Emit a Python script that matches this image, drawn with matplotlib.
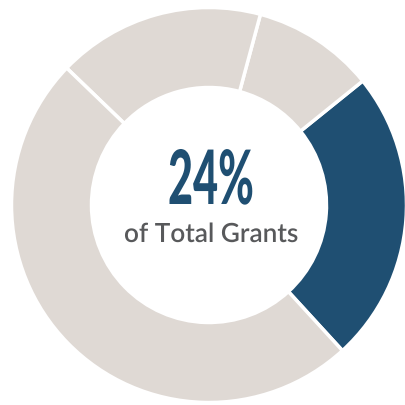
import matplotlib
matplotlib.use("Agg")
import matplotlib.pyplot as plt
from matplotlib.patheffects import AbstractPathEffect
from matplotlib.transforms import Affine2D

# share of total grants, counter-clockwise from the highlighted slice
labels = ["This program", "Other A", "Other B", "Other C"]
shares = [24, 10, 17, 49]
colors = ["#1f4f72", "#dfd9d4", "#dfd9d4", "#dfd9d4"]

BIG = "24%"
SUB = "of Total Grants"


class Squeeze(AbstractPathEffect):
    """narrow the glyphs horizontally about a fixed x (fakes a condensed face)"""
    def __init__(self, sx, cx):
        super().__init__()
        self.sx, self.cx = sx, cx

    def draw_path(self, renderer, gc, tpath, affine, rgbFace=None):
        aff = affine + Affine2D().translate(-self.cx, 0).scale(self.sx, 1).translate(self.cx, 0)
        renderer.draw_path(gc, tpath, aff, rgbFace)


def condense(txt, width_px):
    r = fig.canvas.get_renderer()
    bb = txt.get_window_extent(r)
    txt.set_path_effects([Squeeze(width_px / bb.width, 0.5 * (bb.x0 + bb.x1))])


fig = plt.figure(figsize=(4.05, 4.05), dpi=100)
ax = fig.add_axes([0, 0, 1, 1])
ax.pie(shares, colors=colors, startangle=-47.5, counterclock=True,
       center=(209, 200), radius=197.5,
       wedgeprops=dict(width=80, edgecolor="white", linewidth=2.5))
ax.set_xlim(0, 405)
ax.set_ylim(0, 405)
ax.set_aspect("equal")
ax.axis("off")

t1 = ax.text(211, 201, BIG, ha="center", va="baseline", fontsize=54, fontweight="black",
             color="#1f4f72", family=["Lato", "DejaVu Sans"])
t2 = ax.text(211, 163, SUB, ha="center", va="baseline", fontsize=19, fontweight="semibold",
             color="#58595b", family=["Lato", "DejaVu Sans"])
fig.canvas.draw()
condense(t1, 86)
condense(t2, 174)

fig.savefig("out.png", dpi=100)
